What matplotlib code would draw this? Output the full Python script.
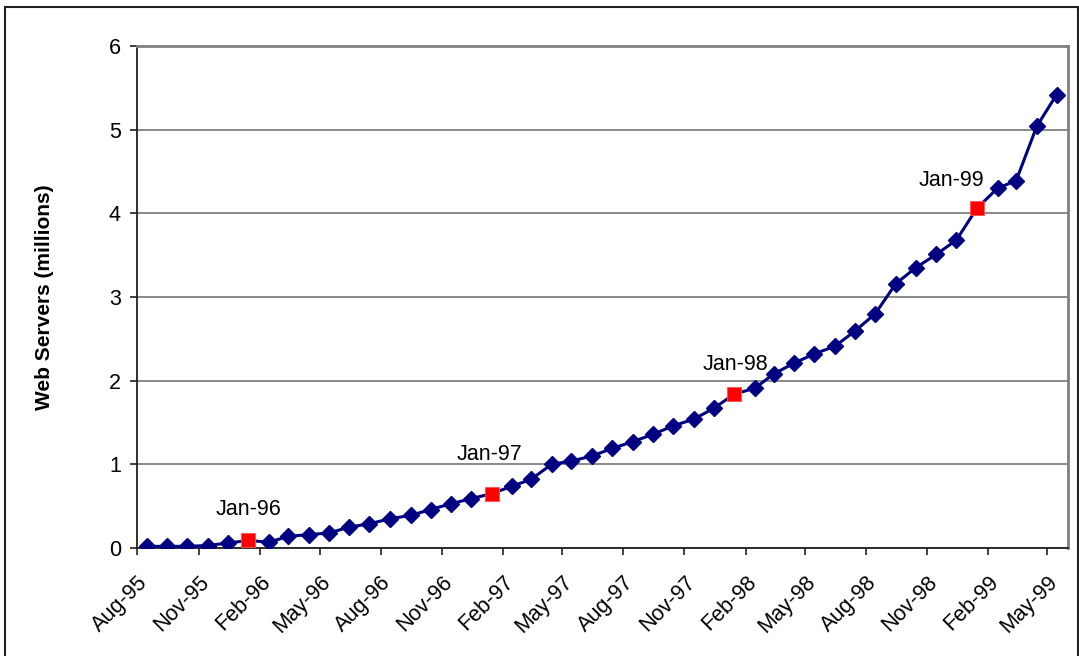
import matplotlib
matplotlib.use("Agg")
import matplotlib.pyplot as plt
import matplotlib.dates as mdates
from matplotlib.patches import Rectangle
import pandas as pd

plt.rcParams["font.family"] = ["Liberation Sans", "DejaVu Sans"]

# monthly survey counts, millions of web servers
first_month = "1995-08"
last_month = "1999-05"
servers = [
    0.02, 0.02, 0.02, 0.03, 0.06,                                      # 1995 Aug-Dec
    0.09, 0.07, 0.14, 0.16, 0.18, 0.25, 0.29, 0.35, 0.39, 0.46, 0.53, 0.59,  # 1996
    0.65, 0.74, 0.82, 1.00, 1.04, 1.10, 1.19, 1.27, 1.36, 1.46, 1.54, 1.67,  # 1997
    1.84, 1.91, 2.08, 2.21, 2.32, 2.41, 2.59, 2.80, 3.16, 3.35, 3.51, 3.68,  # 1998
    4.06, 4.30, 4.39, 5.04, 5.42,                                      # 1999 Jan-May
]
# label offsets (pixels) for the January call-outs
jan_offsets = {1996: (0, 25), 1997: (-2, 34), 1998: (1, 24), 1999: (-26, 22)}

periods = pd.period_range(first_month, last_month, freq="M")
dates = [p.start_time + pd.Timedelta(days=14) for p in periods]
df = pd.DataFrame({"date": dates, "servers": servers, "month": [p.month for p in periods],
                   "year": [p.year for p in periods]})
jan = df[df["month"] == 1]
other = df[df["month"] != 1]

fig = plt.figure(figsize=(10.79, 6.56), dpi=100)
ax = fig.add_axes([0.1274, 0.1646, 0.8624, 0.7653])

navy = "#000080"
fsize = 15.5
ax.plot(df["date"], df["servers"], color=navy, lw=2.2, zorder=3)
ax.plot(other["date"], other["servers"], ls="none", marker="D", ms=8.3,
        color=navy, zorder=4)
ax.plot(jan["date"], jan["servers"], ls="none", marker="s", ms=10,
        color="#ff0000", mec="#ff5050", mew=0.6, zorder=5)

for _, row in jan.iterrows():
    dx, dy = jan_offsets[row["year"]]
    ax.annotate(row["date"].strftime("%b-%y"), (row["date"], row["servers"]),
                xytext=(dx, dy), textcoords="offset pixels",
                ha="center", va="baseline", fontsize=fsize)

ax.set_ylim(0, 6)
ax.set_yticks(range(0, 7))
ax.set_xlim(pd.Timestamp("1995-08-01"), pd.Timestamp("1999-06-01"))
ax.xaxis.set_major_locator(mdates.MonthLocator(bymonth=[2, 5, 8, 11]))
ax.xaxis.set_major_formatter(mdates.DateFormatter("%b-%y"))

ax.grid(axis="y", color="#808080", lw=1.3)
ax.set_axisbelow(True)
for side in ("top", "right"):
    ax.spines[side].set_color("#808080")
    ax.spines[side].set_linewidth(2)
for side in ("left", "bottom"):
    ax.spines[side].set_color("#202020")
    ax.spines[side].set_linewidth(1.3)

ax.tick_params(axis="both", direction="out", length=5, width=1.2,
               color="#202020", labelsize=fsize)
ax.tick_params(axis="y", pad=7)
ax.tick_params(axis="x", pad=12)
for lbl in ax.get_xticklabels():
    lbl.set_rotation(45)
    lbl.set_ha("right")
    lbl.set_va("top")
    lbl.set_rotation_mode("anchor")

fig.text(45 / 1079, 1 - 297.5 / 656, "Web Servers (millions)", rotation=90,
         ha="center", va="center", fontsize=15, fontweight="bold")

# outer chart border
fig.patches.append(Rectangle((5 / 1079, -0.05), 1073 / 1079, 1.05 - 7 / 656,
                             transform=fig.transFigure, fill=False,
                             edgecolor="#202020", lw=1.5))

fig.savefig("out.png", dpi=100)
